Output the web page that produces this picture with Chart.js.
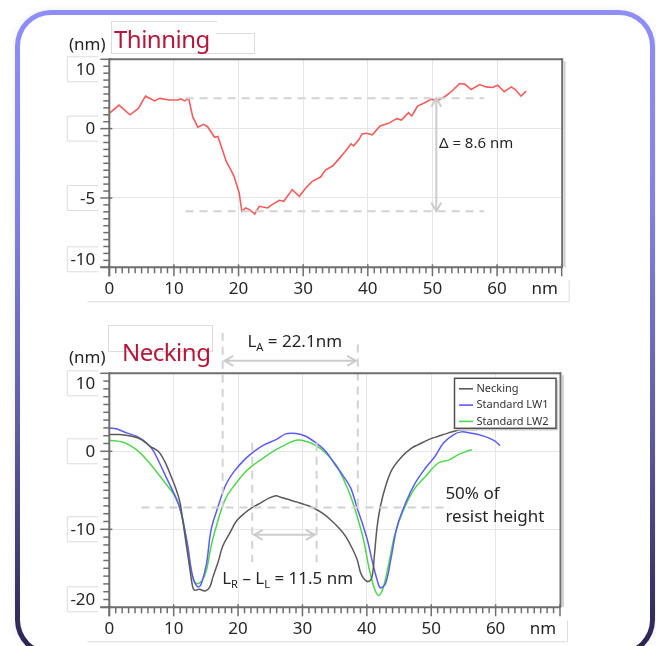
<!DOCTYPE html>
<html><head><meta charset="utf-8">
<script src="https://cdn.jsdelivr.net/npm/chart.js@4.4.0/dist/chart.umd.min.js"></script>
<style>
html,body{margin:0;padding:0;background:#fff;width:656px;height:646px;overflow:hidden;position:relative;}
#card{position:absolute;left:15px;top:10px;width:630px;height:636px;border:5px solid transparent;border-radius:36px;
background:linear-gradient(#fff,#fff) padding-box,linear-gradient(180deg,#8e8ef8 0%,#8282e6 30%,#5f5ca0 65%,#2a2350 100%) border-box;
box-shadow:0 0 9px rgba(0,0,0,0.07);}
canvas{position:absolute;left:0;}
.t{position:absolute;font-family:'Noto Sans';white-space:nowrap;line-height:1;}
.bx{position:absolute;border:1px solid #dcdcdc;box-sizing:border-box;}
</style></head>
<body>
<div id="card"></div>
<div class="bx" style="left:111px;top:21px;width:106px;height:33px;border-right:none;"></div>
<div class="bx" style="left:216px;top:33px;width:39px;height:21px;border-left:none;background:transparent;"></div>
<div class="bx" style="left:108px;top:325px;width:105px;height:27px;"></div>
<canvas id="c1" width="656" height="315" style="top:0;width:656px;height:315px;"></canvas>
<canvas id="c2" width="656" height="331" style="top:315px;width:656px;height:331px;"></canvas>
<div class="t" style="left:69px;top:35px;font-size:17px;color:#262626;">(nm)</div>
<div class="t" style="left:114px;top:27px;font-size:24px;color:#b3183a;letter-spacing:-0.5px;">Thinning</div>
<div class="t" style="left:69px;top:348px;font-size:17px;color:#262626;">(nm)</div>
<div class="t" style="left:122px;top:340px;font-size:24px;color:#b3183a;letter-spacing:-0.5px;">Necking</div>
<script>
// ---------- DATA ----------
const thinX = [0,1.5,3.2,4.5,5.6,7.0,7.8,9.3,10.6,11.1,11.6,12.3,12.9,13.7,14.6,15.2,16.3,16.8,17.5,18.1,18.8,19.3,20.1,20.5,21.1,21.7,22.5,23.2,24.5,25.2,26.3,27.0,28.3,29.4,30.4,31.4,32.7,33.4,34.6,35.5,36.5,37.4,37.8,38.6,39.1,39.8,40.7,41.9,43.2,44.5,45.2,46.3,46.8,47.7,48.8,49.8,50.9,51.9,52.9,54.2,55.0,56.0,57.3,58.3,59.3,60.1,61.1,62.2,62.9,63.7,64.5];
const thinY = [1.1,1.7,1.0,1.46,2.34,2.0,2.18,2.06,2.06,2.15,2.0,2.15,0.86,0.1,0.31,0.14,-0.62,-0.57,-1.53,-2.37,-2.97,-3.44,-4.64,-5.96,-5.72,-5.84,-6.15,-5.6,-5.72,-5.48,-5.17,-5.24,-4.40,-4.88,-4.28,-3.80,-3.49,-3.01,-2.68,-2.20,-1.65,-1.10,-1.24,-0.81,-0.38,-0.33,-0.45,0.19,0.38,0.72,0.62,1.15,0.91,1.63,1.87,2.11,2.06,2.30,2.66,3.25,3.21,2.82,3.18,3.01,2.97,3.13,2.66,3.01,2.78,2.34,2.70];

const neckX = [0,1.6,3.5,5.0,6.3,7.6,8.6,9.6,10.4,11.0,11.4,12.0,12.5,12.9,13.2,14.0,14.9,15.6,16.1,16.9,17.6,18.7,19.7,21.0,22.3,23.6,24.8,25.9,26.6,28.0,29.2,30.5,31.8,33.1,34.4,35.7,36.7,37.7,38.5,39.0,39.5,40.2,40.8,41.2,41.6,42.1,42.9,43.9,45.5,47.0,48.0,49.6,51.1,52.7,54.2,55.5,57.1];
const neckY = [2.15,2.15,1.93,1.50,0.64,0,-1.29,-3.22,-4.94,-6.65,-8.80,-12.23,-15.0,-17.2,-17.8,-17.7,-17.9,-17.4,-16.1,-14.2,-12.2,-10.5,-9.0,-7.94,-7.17,-6.57,-6.0,-5.71,-5.88,-6.22,-6.52,-6.87,-7.30,-7.94,-8.80,-9.87,-10.9,-12.4,-13.9,-15.5,-16.3,-16.7,-16.1,-13.1,-9.66,-7.08,-4.51,-2.36,-0.64,0.43,0.86,1.5,1.93,2.36,2.70,2.79,2.79];

const lw1X = [0,1.1,2.7,4.2,5.8,6.8,7.8,8.9,9.9,10.8,11.4,12.2,12.7,13.2,13.8,14.3,15.1,15.8,16.9,18.1,19.4,21.0,22.5,24.1,25.9,27.4,29.0,30.5,32.1,33.6,34.9,36.2,37.5,38.5,39.3,40.1,40.8,41.6,42.1,42.9,43.7,44.7,46.0,47.5,49.1,50.6,51.9,53.5,54.7,56.0,57.3,58.9,59.9,60.7];
const lw1Y = [3.0,2.88,2.36,1.93,1.07,0.13,-1.5,-3.43,-5.15,-6.87,-8.80,-12.2,-15.0,-16.7,-17.4,-16.95,-14.4,-10.1,-7.08,-4.29,-2.58,-1.07,0,0.86,1.5,2.23,2.27,1.93,1.07,0,-1.5,-3.0,-4.72,-7.30,-9.23,-11.4,-13.95,-16.5,-17.5,-16.95,-13.95,-9.66,-6.65,-4.08,-2.15,-0.64,1.07,2.15,2.49,2.36,2.15,1.72,1.29,0.73];

const lw2X = [0,2.2,4.2,5.8,7.3,8.9,10.2,11.2,12.0,12.5,13.0,13.5,14.3,15.1,15.8,16.9,18.1,19.7,21.2,22.8,24.3,25.9,27.4,29.0,30.5,32.1,33.6,35.2,36.4,37.5,38.5,39.5,40.3,41.1,41.8,42.5,43.4,44.4,45.7,47.3,49.1,51.1,52.9,54.2,55.5,56.3];
const lw2Y = [1.42,1.16,0.21,-1.07,-2.58,-4.29,-5.79,-7.94,-11.4,-14.4,-16.3,-16.95,-16.7,-15.2,-12.2,-8.80,-6.0,-4.08,-2.58,-1.5,-0.64,0.21,0.86,1.42,1.29,0.73,-0.21,-1.72,-3.65,-5.79,-8.37,-11.4,-14.8,-17.4,-18.5,-17.6,-14.4,-10.5,-7.51,-4.94,-3.22,-1.5,-1.07,-0.43,0,0.21];

const seriesNames = ['Necking','Standard LW1','Standard LW2'];
const xTickVals = [0,10,20,30,40,50,60];
const xTickLabels = ['0','10','20','30','40','50','60'];
const thinYTickVals = [5,0,-5,-10];
const thinYTickLabels = ['10','0','-5','-10'];
const neckYTickVals = [10,0,-10,-20];
const neckYTickLabels = ['10','0','-10','-20'];

// annotation values (data units)
const thinLevels = [2.2,-5.95];
const thinSpan = [11.8,58];
const thinArrowX = 50.6;
const thinDeltaPos = [51.0,-1.1];
const laX = [17.6,38.6];
const laTop = [15.2,13.7];
const laArrowY = 11.6;
const laTextPos = [28.8,14.0];
const halfLevel = -7.2;
const halfSpan = [5,52.9];
const lrX = [22.2,32.2];
const lrRange = [1.1,-14.2];
const lrArrowY = -10.7;
const lrTextPos = [27.7,-16.4];
const halfTextPos = [52.2,-5.5,-8.4];

// ---------- helpers ----------
const pts = (xs,ys)=>xs.map((x,i)=>({x:x,y:ys[i]}));
function line(ctx,x1,y1,x2,y2,color,w,dash){
  ctx.save();ctx.strokeStyle=color;ctx.lineWidth=w;ctx.setLineDash(dash||[]);
  ctx.beginPath();ctx.moveTo(x1,y1);ctx.lineTo(x2,y2);ctx.stroke();ctx.restore();
}
const DASH='#d2d2d2';
function dashed(ctx,x1,y1,x2,y2){line(ctx,x1,y1,x2,y2,DASH,2,[8,6]);}
function arrow2(ctx,x1,y1,x2,y2){
  const col='#cccccc';
  line(ctx,x1,y1,x2,y2,col,2);
  const L=10, ang=Math.PI/6;
  [[x1,y1,x2,y2],[x2,y2,x1,y1]].forEach(([ax,ay,bx,by])=>{
    const th=Math.atan2(by-ay,bx-ax);
    ctx.save();ctx.strokeStyle=col;ctx.lineWidth=2;ctx.beginPath();
    ctx.moveTo(ax+L*Math.cos(th+ang),ay+L*Math.sin(th+ang));
    ctx.lineTo(ax,ay);
    ctx.lineTo(ax+L*Math.cos(th-ang),ay+L*Math.sin(th-ang));
    ctx.stroke();ctx.restore();
  });
}
function subText(ctx,parts,cx,cy){
  ctx.save();ctx.fillStyle='#262626';ctx.textBaseline='middle';ctx.textAlign='left';
  const big='17px "Noto Sans"', small='11px "Noto Sans"';
  let total=0;
  parts.forEach(p=>{ctx.font=p[1]?small:big;total+=ctx.measureText(p[0]).width;});
  let x=cx-total/2;
  parts.forEach(p=>{ctx.font=p[1]?small:big;ctx.fillText(p[0],x,p[1]?cy+6:cy);x+=ctx.measureText(p[0]).width;});
  ctx.restore();
}
function drawAxes(chart,yStep,yVals,yLabels){
  const ctx=chart.ctx,a=chart.chartArea,xs=chart.scales.x,ys=chart.scales.y;
  const AX='#6e6e6e';
  line(ctx,a.right+3,a.top+2,a.right+3,a.bottom,'#d4d4d4',2);
  line(ctx,a.left,a.top,a.right+1,a.top,AX,2);
  line(ctx,a.right+0.5,a.top-1,a.right+0.5,a.bottom,AX,2);
  line(ctx,a.left,a.top-1,a.left,a.bottom+9,AX,2);
  line(ctx,a.left-9,a.bottom,a.right+1,a.bottom,AX,2);
  for(let v=xs.min;v<=xs.max+1e-6;v+=1){
    const p=xs.getPixelForValue(v),maj=Math.round(v)%10===0;
    line(ctx,p,a.bottom-(maj?3:0),p,a.bottom+(maj?9:6),AX,1.5);
  }
  for(let v=ys.min;v<=ys.max+1e-6;v+=yStep){
    const p=ys.getPixelForValue(v),maj=yVals.some(t=>Math.abs(t-v)<1e-6);
    line(ctx,a.left-(maj?9:6),p,a.left+(maj?3:0),p,AX,1.5);
  }
  ctx.save();ctx.strokeStyle='#dcdcdc';ctx.lineWidth=1;
  ctx.font='17px "Noto Sans"';ctx.fillStyle='#262626';
  ctx.textAlign='right';ctx.textBaseline='middle';
  yVals.forEach((v,i)=>{
    let y=ys.getPixelForValue(v);
    y=Math.min(Math.max(y,a.top+10),a.bottom-8);
    const bx=a.left-42;
    ctx.beginPath();ctx.moveTo(a.left-11,y-12.5);ctx.lineTo(bx,y-12.5);ctx.lineTo(bx,y+12.5);ctx.lineTo(a.left-11,y+12.5);ctx.stroke();
    ctx.fillText(yLabels[i],a.left-14,y+1);
  });
  ctx.beginPath();ctx.moveTo(a.left-22,a.bottom+34.5);ctx.lineTo(a.right+7.5,a.bottom+34.5);ctx.lineTo(a.right+7.5,a.bottom+13);ctx.stroke();
  ctx.textAlign='center';
  xTickVals.forEach((v,i)=>ctx.fillText(xTickLabels[i],xs.getPixelForValue(v),a.bottom+22));
  ctx.fillText('nm',a.right-17,a.bottom+22);
  ctx.restore();
}
function gridColor(show){
  return c=>(c.tick&&show(c.tick.value))?'#e6e6e6':'rgba(0,0,0,0)';
}
function baseOptions(pad,yMin,yMax,yStep,yGrid,xH,yW){
  return {
    responsive:false,animation:false,
    layout:{padding:pad},
    plugins:{legend:{display:false},tooltip:{enabled:false},title:{display:false}},
    scales:{
      x:{type:'linear',min:0,max:70,
        ticks:{display:false,stepSize:10},
        grid:{drawTicks:false,color:gridColor(v=>v>0&&v<70&&v%10===0)},
        border:{display:false},
        afterFit:s=>{s.height=xH;}},
      y:{type:'linear',min:yMin,max:yMax,
        ticks:{display:false,stepSize:yStep},
        grid:{drawTicks:false,color:gridColor(yGrid)},
        border:{display:false},
        afterFit:s=>{s.width=yW;}}
    }
  };
}

// ---------- chart 1 : Thinning ----------
const decorTop={id:'decorTop',afterDraw(chart){
  const ctx=chart.ctx,xs=chart.scales.x,ys=chart.scales.y;
  const px=v=>xs.getPixelForValue(v),py=v=>ys.getPixelForValue(v);
  dashed(ctx,px(thinSpan[0]),py(thinLevels[0]),px(thinSpan[1]),py(thinLevels[0]));
  dashed(ctx,px(thinSpan[0]),py(thinLevels[1]),px(thinSpan[1]),py(thinLevels[1]));
  arrow2(ctx,px(thinArrowX),py(thinLevels[0]),px(thinArrowX),py(thinLevels[1]));
  ctx.save();ctx.font='15px "Noto Sans"';ctx.fillStyle='#262626';ctx.textBaseline='middle';
  ctx.fillText('Δ = 8.6 nm',px(thinDeltaPos[0]),py(thinDeltaPos[1]));ctx.restore();
  drawAxes(chart,0.5,thinYTickVals,thinYTickLabels);
}};
new Chart(document.getElementById('c1'),{
  type:'line',
  data:{datasets:[{label:'Thinning',data:pts(thinX,thinY),borderColor:'#f25c5c',borderWidth:1.6,pointRadius:0,tension:0}]},
  options:baseOptions({left:60,top:59.3,right:94.3,bottom:0},-10,5,5,v=>v===0||v===-5,47.7,49.3),
  plugins:[decorTop]
});

// ---------- chart 2 : Necking ----------
const seriesColors=['#5a5a5a','#5c5cf2','#4fd64f'];
const decorBot={id:'decorBot',afterDraw(chart){
  const ctx=chart.ctx,a=chart.chartArea,xs=chart.scales.x,ys=chart.scales.y;
  const px=v=>xs.getPixelForValue(v),py=v=>ys.getPixelForValue(v);
  dashed(ctx,px(halfSpan[0]),py(halfLevel),px(halfSpan[1]),py(halfLevel));
  dashed(ctx,px(laX[0]),py(laTop[0]),px(laX[0]),py(halfLevel));
  dashed(ctx,px(laX[1]),py(laTop[1]),px(laX[1]),py(halfLevel));
  arrow2(ctx,px(laX[0])+2,py(laArrowY),px(laX[1])-2,py(laArrowY));
  dashed(ctx,px(lrX[0]),py(lrRange[0]),px(lrX[0]),py(lrRange[1]));
  dashed(ctx,px(lrX[1]),py(lrRange[0]),px(lrX[1]),py(lrRange[1]));
  arrow2(ctx,px(lrX[0])+2,py(lrArrowY),px(lrX[1])-2,py(lrArrowY));
  subText(ctx,[['L',0],['A',1],[' = 22.1nm',0]],px(laTextPos[0]),py(laTextPos[1]));
  subText(ctx,[['L',0],['R',1],[' – L',0],['L',1],[' = 11.5 nm',0]],px(lrTextPos[0]),py(lrTextPos[1]));
  ctx.save();ctx.font='17px "Noto Sans"';ctx.fillStyle='#262626';ctx.textBaseline='middle';
  ctx.fillText('50% of',px(halfTextPos[0]),py(halfTextPos[1]));
  ctx.fillText('resist height',px(halfTextPos[0]),py(halfTextPos[2]));
  ctx.restore();
  const lx=a.right-105.5,ly=a.top+5,lw=101.5,lh=50;
  ctx.save();
  ctx.fillStyle='#fff';ctx.fillRect(lx,ly,lw,lh);
  line(ctx,lx+2,ly+lh+1.5,lx+lw+1.5,ly+lh+1.5,'#cfcfcf',1.5);
  line(ctx,lx+lw+1.5,ly+2,lx+lw+1.5,ly+lh+1.5,'#cfcfcf',1.5);
  ctx.strokeStyle='#505050';ctx.lineWidth=1.5;ctx.strokeRect(lx,ly,lw,lh);
  ctx.font='11px "Noto Sans"';ctx.textBaseline='middle';ctx.fillStyle='#333';
  chart.data.datasets.forEach((d,i)=>{
    const yy=ly+10.5+i*16.3;
    line(ctx,lx+4.5,yy,lx+18.5,yy,d.borderColor,1.6);
    ctx.fillText(d.label,lx+22,yy);
  });
  ctx.restore();
  drawAxes(chart,1,neckYTickVals,neckYTickLabels);
}};
new Chart(document.getElementById('c2'),{
  type:'line',
  data:{datasets:[
    {label:seriesNames[0],data:pts(neckX,neckY),borderColor:seriesColors[0],borderWidth:1.5,pointRadius:0,tension:0.35},
    {label:seriesNames[1],data:pts(lw1X,lw1Y),borderColor:seriesColors[1],borderWidth:1.5,pointRadius:0,tension:0.35},
    {label:seriesNames[2],data:pts(lw2X,lw2Y),borderColor:seriesColors[2],borderWidth:1.5,pointRadius:0,tension:0.35}
  ]},
  options:baseOptions({left:60,top:58.3,right:96,bottom:0},-20,10,10,v=>v===0||v===-10,38.7,49.3),
  plugins:[decorBot]
});
</script>
</body></html>
